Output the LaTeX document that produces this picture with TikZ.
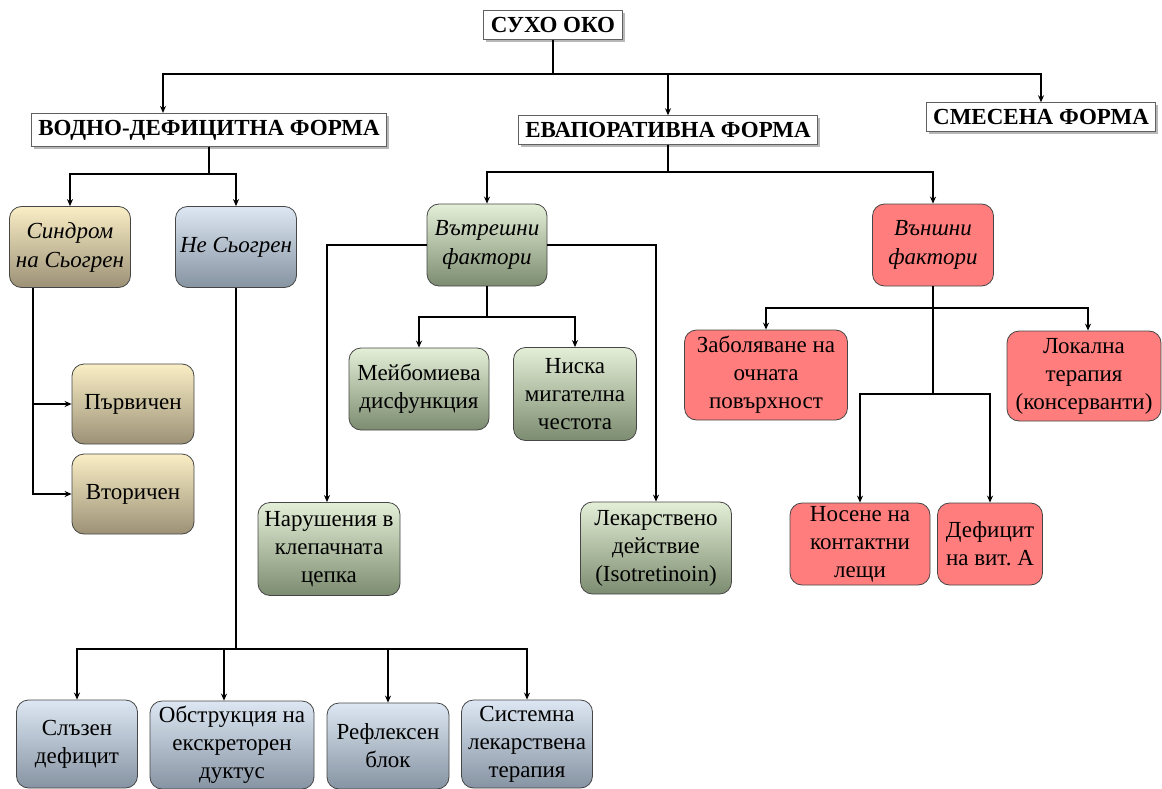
\documentclass[tikz,border=0pt]{standalone}
\usepackage{fontspec}
\setmainfont{Liberation Serif}
\usetikzlibrary{arrows.meta,shadows,positioning}
\definecolor{tanT}{RGB}{249,238,197}
\definecolor{tanB}{RGB}{156,145,118}
\definecolor{bluT}{RGB}{221,231,243}
\definecolor{bluB}{RGB}{134,147,162}
\definecolor{grnT}{RGB}{228,239,215}
\definecolor{grnB}{RGB}{124,140,112}
\definecolor{redF}{RGB}{255,125,125}

\begin{document}
\begin{tikzpicture}[x=1pt,y=-1pt,
	form/.style={draw=gray!75!black, fill=white, line width=1pt, inner xsep=7pt, inner ysep=6.5pt,
		font=\fontsize{23}{27}\selectfont\bfseries,
		drop shadow={shadow xshift=2.5pt, shadow yshift=-2.5pt, fill=gray!70, opacity=0.8}},
	box/.style={draw=gray!55!black, line width=0.8pt, rounded corners=12pt, align=center,
		inner sep=2pt, font=\fontsize{23}{28}\selectfont},
	itbox/.style={font=\fontsize{23}{29}\selectfont\itshape},
	sjbox/.style={box, top color=tanT, bottom color=tanB},
	nsbox/.style={box, top color=bluT, bottom color=bluB},
	inbox/.style={box, top color=grnT, bottom color=grnB},
	exbox/.style={box, fill=redF},
	link/.style={line width=2pt, -{Stealth[length=7pt,width=6pt]}}]
	\useasboundingbox (0,0) rectangle (1162,789);

	\node[form] (oko) at (553,25) {СУХО ОКО};
	\node[form] (voda) at (209,130) {ВОДНО-ДЕФИЦИТНА ФОРМА};
	\node[form] (evap) at (668,130) {ЕВАПОРАТИВНА ФОРМА};
	\node[form] (mix) at (1041,117) {СМЕСЕНА ФОРМА};

	\node[sjbox, itbox, minimum width=121pt, minimum height=81pt] (sjog) at (70,247) {Синдром\\на Сьогрен};
	\node[nsbox, itbox, minimum width=121pt, minimum height=81pt] (nesj) at (236,247) {Не Сьогрен};
	\node[sjbox, minimum width=122pt, minimum height=80pt] (prim) at (133,404) {Първичен};
	\node[sjbox, minimum width=122pt, minimum height=80pt] (sec) at (133,494) {Вторичен};

	\node[nsbox, minimum width=121pt, minimum height=88pt] (tear) at (77,744) {Слъзен\\дефицит};
	\node[nsbox, minimum width=164pt, minimum height=88pt] (obst) at (232,745) {Обструкция на\\екскреторен\\дуктус};
	\node[nsbox, minimum width=122pt, minimum height=86pt] (refl) at (388,746) {Рефлексен\\блок};
	\node[nsbox, minimum width=131pt, minimum height=88pt] (sist) at (527,744) {Системна\\лекарствена\\терапия};

	\node[inbox, itbox, minimum width=120pt, minimum height=82pt] (inner) at (487,245) {Вътрешни\\фактори};
	\node[inbox, minimum width=140pt, minimum height=82pt] (meib) at (419,389) {Мейбомиева\\дисфункция};
	\node[inbox, minimum width=123pt, minimum height=93pt] (nisk) at (575,394) {Ниска\\мигателна\\честота};
	\node[inbox, minimum width=142pt, minimum height=93pt] (naru) at (329,549) {Нарушения в\\клепачната\\цепка};
	\node[inbox, minimum width=151pt, minimum height=92pt] (leka) at (656,548) {Лекарствено\\действие\\(Isotretinoin)};

	\node[exbox, itbox, minimum width=121pt, minimum height=82pt] (outer) at (933,245) {Външни\\фактори};
	\node[exbox, minimum width=163pt, minimum height=90pt] (zabo) at (766,375) {Заболяване на\\очната\\повърхност};
	\node[exbox, minimum width=154pt, minimum height=90pt] (loka) at (1084,376) {Локална\\терапия\\(консерванти)};
	\node[exbox, minimum width=140pt, minimum height=82pt] (nose) at (860,544) {Носене на\\контактни\\лещи};
	\node[exbox, minimum width=105pt, minimum height=82pt] (defi) at (990,544) {Дефицит\\на вит.\ А};

	\draw[link] (oko.south) -- ++(0,34) -| ([xshift=-46pt]voda.north);
	\draw[link] (oko.south) -- ++(0,34) -| (evap.north);
	\draw[link] (oko.south) -- ++(0,34) -| (mix.north);

	\draw[link] (voda.south) -- ++(0,27) -| (sjog.north);
	\draw[link] (voda.south) -- ++(0,27) -| (nesj.north);
	\draw[link] ([xshift=-37pt]sjog.south) |- (prim.west);
	\draw[link] ([xshift=-37pt]sjog.south) |- (sec.west);

	\draw[link] (nesj.south) -- ++(0,361) -| (tear.north);
	\draw[link] (nesj.south) -- ++(0,361) -| ([xshift=-8pt]obst.north);
	\draw[link] (nesj.south) -- ++(0,361) -| (refl.north);
	\draw[link] (nesj.south) -- ++(0,361) -| (sist.north);

	\draw[link] (evap.south) -- ++(0,27) -| (inner.north);
	\draw[link] (evap.south) -- ++(0,27) -| (outer.north);
	\draw[link] (inner.west) -| ([xshift=-2pt]naru.north);
	\draw[link] (inner.east) -| (leka.north);
	\draw[link] (inner.south) -- ++(0,31) -| (meib.north);
	\draw[link] (inner.south) -- ++(0,31) -| (nisk.north);

	\draw[link] (outer.south) -- ++(0,22) -| (zabo.north);
	\draw[link] (outer.south) -- ++(0,22) -| ([xshift=4pt]loka.north);
	\draw[link] (outer.south) -- ++(0,108) -| (nose.north);
	\draw[link] (outer.south) -- ++(0,108) -| (defi.north);
\end{tikzpicture}
\end{document}
